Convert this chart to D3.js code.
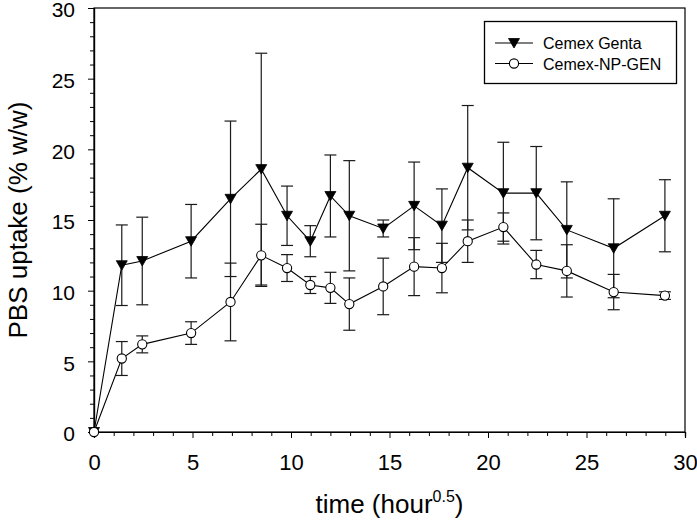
<!DOCTYPE html>
<html>
<head>
<meta charset="utf-8">
<script src="https://cdn.jsdelivr.net/npm/d3@7"></script>
<style>
  html, body { margin: 0; padding: 0; background: #fff; }
  svg text { font-family: Arial, "Liberation Sans", sans-serif; fill: #000; }
</style>
</head>
<body>
<svg id="chart" width="697" height="521"></svg>
<script>
// ---- data ----
const timeValues = [0, 1.41, 2.45, 4.93, 6.93, 8.49, 9.80, 10.98, 12.00, 12.96, 14.68, 16.25, 17.66, 18.97, 20.78, 22.45, 24.00, 26.38, 28.98];
const gentaMean  = [0, 11.8, 12.1, 13.5, 16.5, 18.6, 15.3, 13.5, 16.7, 15.3, 14.4, 16.0, 14.6, 18.7, 16.9, 16.9, 14.3, 13.0, 15.3];
const gentaErr   = [0, 2.85, 3.1, 2.6, 5.5, 8.2, 2.1, 1.1, 2.9, 3.9, 0.6, 3.1, 2.6, 4.4, 3.6, 3.3, 3.4, 3.5, 2.55];
const npMean     = [0, 5.2, 6.2, 7.0, 9.2, 12.5, 11.6, 10.4, 10.2, 9.05, 10.3, 11.7, 11.6, 13.5, 14.5, 11.85, 11.4, 9.9, 9.65];
const npErr      = [0, 1.2, 0.6, 0.8, 2.75, 2.2, 0.95, 0.6, 1.1, 1.85, 2.0, 2.05, 1.75, 1.5, 1.0, 1.0, 1.85, 1.25, 0.27];
const seriesNames = ["Cemex Genta", "Cemex-NP-GEN"];
const xTicks = [0, 5, 10, 15, 20, 25, 30];
const yTicks = [0, 5, 10, 15, 20, 25, 30];
const xTitle = "time (hour";
const xTitleSup = "0.5";
const yTitle = "PBS uptake (% w/w)";

// ---- layout ----
const svg = d3.select("#chart");
const mLeft = 94, mRight = 685, mTop = 8, mBottom = 432;
const x = d3.scaleLinear().domain([0, 30]).range([mLeft, mRight]);
const y = d3.scaleLinear().domain([0, 30]).range([mBottom, mTop]);

const series = [
  { name: seriesNames[0], mean: gentaMean, err: gentaErr, marker: "tri" },
  { name: seriesNames[1], mean: npMean, err: npErr, marker: "circ" }
];

// frame
svg.append("rect")
  .attr("x", mLeft).attr("y", mTop)
  .attr("width", mRight - mLeft).attr("height", mBottom - mTop)
  .attr("fill", "none").attr("stroke", "#000").attr("stroke-width", 1.2);

// axes
const minorX = d3.range(0, 31, 1).filter(v => v % 5 !== 0);
const minorY = d3.range(0, 31, 1).filter(v => v % 5 !== 0);

const xAxis = svg.append("g").attr("transform", `translate(0,${mBottom})`)
  .call(d3.axisBottom(x).tickValues(xTicks).tickSize(6).tickPadding(16).tickFormat(d3.format("d")));
const xMinor = svg.append("g").attr("transform", `translate(0,${mBottom})`)
  .call(d3.axisBottom(x).tickValues(minorX).tickSize(4).tickFormat(""));
const yAxis = svg.append("g").attr("transform", `translate(${mLeft},0)`)
  .call(d3.axisLeft(y).tickValues(yTicks).tickSize(6).tickPadding(13).tickFormat(d3.format("d")));
const yMinor = svg.append("g").attr("transform", `translate(${mLeft},0)`)
  .call(d3.axisLeft(y).tickValues(minorY).tickSize(4).tickFormat(""));

[xAxis, xMinor, yAxis, yMinor].forEach(g => {
  g.select(".domain").attr("stroke", "#000").attr("stroke-width", 1.2);
  g.selectAll(".tick line").attr("stroke", "#000").attr("stroke-width", 1);
  g.selectAll("text").attr("font-size", 22).attr("font-family", "Arial, 'Liberation Sans', sans-serif").attr("fill", "#000");
});
yAxis.selectAll("text").attr("font-size", 21).attr("dy", "0.42em");

// axis titles
const xt = svg.append("text")
  .attr("x", (mLeft + mRight) / 2).attr("y", 513)
  .attr("text-anchor", "middle").attr("font-size", 26);
xt.append("tspan").text(xTitle);
xt.append("tspan").attr("font-size", 16).attr("dy", -11).text(xTitleSup);
xt.append("tspan").attr("dy", 11).text(")");

svg.append("text")
  .attr("transform", `translate(27,${(mTop + mBottom) / 2}) rotate(-90)`)
  .attr("text-anchor", "middle").attr("font-size", 26)
  .text(yTitle);

// markers
const triPath = "M-5.5,-4.5L5.5,-4.5L0,5Z";
function drawMarker(g, type) {
  if (type === "tri") {
    g.append("path").attr("d", triPath).attr("fill", "#000").attr("stroke", "#000").attr("stroke-width", 0.8);
  } else {
    g.append("circle").attr("r", 4.6).attr("fill", "#fff").attr("stroke", "#000").attr("stroke-width", 1.1);
  }
}

const capHalf = 6;
const plot = svg.append("g");

// error bars
series.forEach(s => {
  const eg = plot.append("g").attr("stroke", "#1a1a1a").attr("stroke-width", 1.2);
  timeValues.forEach((t, i) => {
    const e = s.err[i];
    if (!e) return;
    const cx = x(t), y1 = y(s.mean[i] + e), y0 = y(s.mean[i] - e);
    eg.append("line").attr("x1", cx).attr("x2", cx).attr("y1", y1).attr("y2", y0);
    eg.append("line").attr("x1", cx - capHalf).attr("x2", cx + capHalf).attr("y1", y1).attr("y2", y1);
    eg.append("line").attr("x1", cx - capHalf).attr("x2", cx + capHalf).attr("y1", y0).attr("y2", y0);
  });
});

// lines
const line = d3.line().x(d => x(d[0])).y(d => y(d[1]));
series.forEach(s => {
  plot.append("path")
    .attr("d", line(timeValues.map((t, i) => [t, s.mean[i]])))
    .attr("fill", "none").attr("stroke", "#000").attr("stroke-width", 1.1);
});

// markers
series.forEach(s => {
  timeValues.forEach((t, i) => {
    const g = plot.append("g").attr("transform", `translate(${x(t)},${y(s.mean[i])})`);
    drawMarker(g, s.marker);
  });
});

// legend
const lg = svg.append("g");
lg.append("rect").attr("x", 484.5).attr("y", 21.5).attr("width", 192).attr("height", 62)
  .attr("fill", "#fff").attr("stroke", "#000").attr("stroke-width", 1.3);
series.forEach((s, i) => {
  const ry = 43 + i * 20.5;
  lg.append("line").attr("x1", 495).attr("x2", 533).attr("y1", ry).attr("y2", ry)
    .attr("stroke", "#000").attr("stroke-width", 1.1);
  const mg = lg.append("g").attr("transform", `translate(514,${ry})`);
  drawMarker(mg, s.marker);
  lg.append("text").attr("x", 543).attr("y", ry + 6).attr("font-size", 16).text(s.name);
});
</script>
</body>
</html>
